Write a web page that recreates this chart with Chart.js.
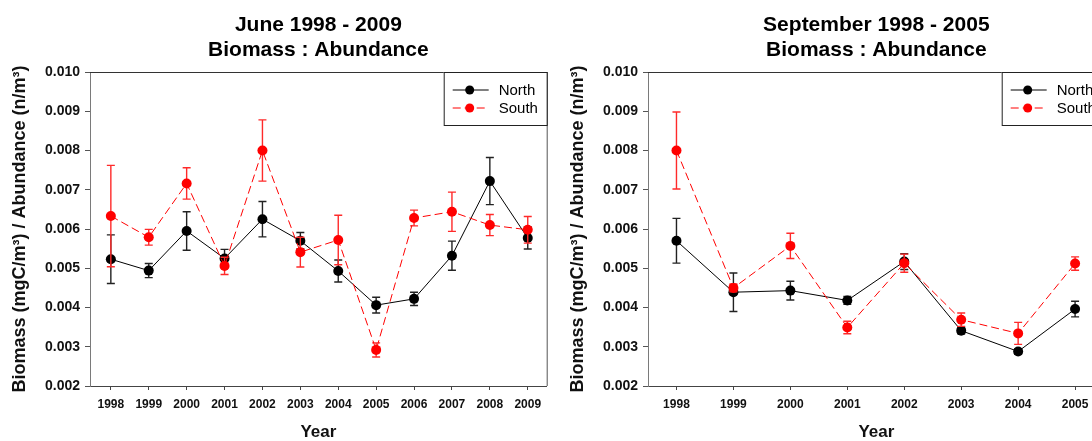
<!DOCTYPE html>
<html>
<head>
<meta charset="utf-8">
<script src="https://cdn.jsdelivr.net/npm/chart.js@4/dist/chart.umd.min.js"></script>
<style>
  html, body { margin: 0; padding: 0; background: #fff; overflow: hidden; }
  #wrap { position: relative; width: 1092px; height: 441px; overflow: hidden; }
  .panel { position: absolute; top: 0; width: 558px; height: 441px; }
</style>
</head>
<body>
<div id="wrap">
  <div class="panel" style="left:0"><canvas id="june" width="558" height="441"></canvas></div>
  <div class="panel" style="left:558px"><canvas id="sept" width="558" height="441"></canvas></div>
</div>
<script>
// June survey, 1998-2009 (mean and standard error)
const juneYears = [1998, 1999, 2000, 2001, 2002, 2003, 2004, 2005, 2006, 2007, 2008, 2009];
const juneNorth = [0.00523, 0.00494, 0.00595, 0.00525, 0.00625, 0.00570, 0.00493, 0.00406, 0.00422, 0.00532, 0.00722, 0.00577];
const juneNorthErr = [0.00062, 0.00018, 0.00049, 0.00023, 0.00045, 0.00021, 0.00028, 0.00020, 0.00017, 0.00037, 0.00060, 0.00028];
const juneSouth = [0.00633, 0.00579, 0.00716, 0.00506, 0.00800, 0.00541, 0.00572, 0.00292, 0.00628, 0.00644, 0.00610, 0.00598];
const juneSouthErr = [0.00129, 0.00020, 0.00040, 0.00022, 0.00078, 0.00038, 0.00063, 0.00018, 0.00020, 0.00050, 0.00027, 0.00034];

// September survey, 1998-2005
const septYears = [1998, 1999, 2000, 2001, 2002, 2003, 2004, 2005];
const septNorth = [0.00570, 0.00439, 0.00443, 0.00418, 0.00517, 0.00341, 0.00288, 0.00396];
const septNorthErr = [0.00057, 0.00049, 0.00024, 0.00010, 0.00020, 0.00008, 0.00007, 0.00020];
const septSouth = [0.00800, 0.00450, 0.00557, 0.00349, 0.00513, 0.00369, 0.00334, 0.00512];
const septSouthErr = [0.00098, 0.00010, 0.00032, 0.00016, 0.00023, 0.00017, 0.00028, 0.00017];

const yTicks = [0.002, 0.003, 0.004, 0.005, 0.006, 0.007, 0.008, 0.009, 0.010];
const seriesNames = ['North', 'South'];

const FONT = 'Arial, "Liberation Sans", Helvetica, sans-serif';
const NORTH_COLOR = '#000000';
const SOUTH_COLOR = '#ff0000';
const SOUTH_DASH = [8, 4];

// vertical error bars with caps, drawn under each dataset's markers
const errorBars = {
  id: 'errorBars',
  beforeDatasetDraw(chart, args) {
    const ds = chart.data.datasets[args.index];
    if (!ds.errors) return;
    const { ctx } = chart;
    const xs = chart.scales.x, ys = chart.scales.y;
    ctx.save();
    ctx.strokeStyle = ds.errorColor;
    ctx.lineWidth = 1.4;
    ds.data.forEach((p, i) => {
      const e = ds.errors[i];
      const x = xs.getPixelForValue(p.x);
      const yt = ys.getPixelForValue(p.y + e);
      const yb = ys.getPixelForValue(p.y - e);
      ctx.beginPath();
      ctx.moveTo(x, yt); ctx.lineTo(x, yb);
      ctx.moveTo(x - 4, yt); ctx.lineTo(x + 4, yt);
      ctx.moveTo(x - 4, yb); ctx.lineTo(x + 4, yb);
      ctx.stroke();
    });
    ctx.restore();
  }
};

// two-line title centred over the plot, plus the top/right frame
const frameAndTitle = {
  id: 'frameAndTitle',
  afterDraw(chart, args, opts) {
    const { ctx, chartArea: a } = chart;
    ctx.save();
    ctx.lineWidth = 1;
    ctx.strokeStyle = '#333';
    ctx.beginPath();
    ctx.moveTo(a.left, a.top + 0.5); ctx.lineTo(a.right, a.top + 0.5);
    ctx.stroke();
    ctx.strokeStyle = '#555';
    ctx.beginPath();
    ctx.moveTo(a.right + 0.5, a.top); ctx.lineTo(a.right + 0.5, a.bottom);
    ctx.stroke();
    ctx.fillStyle = '#000';
    ctx.font = 'bold 21px ' + FONT;
    ctx.textAlign = 'center';
    ctx.textBaseline = 'middle';
    const cx = (a.left + a.right) / 2;
    ctx.fillText(opts.lines[0], cx, 25);
    ctx.fillText(opts.lines[1], cx, 50);
    ctx.restore();
  }
};

// boxed legend in the upper-right corner of the plot
const boxLegend = {
  id: 'boxLegend',
  afterDraw(chart) {
    const { ctx, chartArea: a } = chart;
    const w = 103, h = 53;
    const L = a.right - w, T = a.top;
    ctx.save();
    ctx.fillStyle = '#fff';
    ctx.fillRect(L, T, w, h);
    ctx.strokeStyle = '#222';
    ctx.lineWidth = 1;
    ctx.strokeRect(L + 0.5, T + 0.5, w, h);
    chart.data.datasets.forEach((ds, i) => {
      const y = T + 18 + i * 18;
      ctx.strokeStyle = ds.borderColor;
      ctx.lineWidth = 1;
      ctx.setLineDash(ds.borderDash || []);
      ctx.beginPath();
      ctx.moveTo(L + 9, y); ctx.lineTo(L + 45, y);
      ctx.stroke();
      ctx.setLineDash([]);
      ctx.fillStyle = ds.pointBackgroundColor;
      ctx.beginPath();
      ctx.arc(L + 26, y, 4.5, 0, Math.PI * 2);
      ctx.fill();
      ctx.fillStyle = '#000';
      ctx.font = '15px ' + FONT;
      ctx.textAlign = 'left';
      ctx.textBaseline = 'middle';
      ctx.fillText(ds.label, L + 55, y + 1);
    });
    ctx.restore();
  }
};

function makeChart(id, titleLines, years, north, northErr, south, southErr, xMin, xMax) {
  const toPts = (vals) => vals.map((v, i) => ({ x: years[i], y: v }));
  return new Chart(document.getElementById(id), {
    type: 'line',
    data: {
      datasets: [
        {
          label: seriesNames[0],
          data: toPts(north),
          errors: northErr,
          errorColor: '#222',
          borderColor: NORTH_COLOR,
          borderWidth: 1,
          pointBackgroundColor: NORTH_COLOR,
          pointBorderColor: NORTH_COLOR,
          pointRadius: 5,
          pointBorderWidth: 0,
          tension: 0,
          order: 2
        },
        {
          label: seriesNames[1],
          data: toPts(south),
          errors: southErr,
          errorColor: '#ff2a2a',
          borderColor: SOUTH_COLOR,
          borderDash: SOUTH_DASH,
          borderWidth: 1,
          pointBackgroundColor: SOUTH_COLOR,
          pointBorderColor: SOUTH_COLOR,
          pointRadius: 5,
          pointBorderWidth: 0,
          tension: 0,
          order: 1
        }
      ]
    },
    options: {
      responsive: false,
      animation: false,
      devicePixelRatio: 1,
      layout: { padding: { top: 72, right: 11.3, left: 0, bottom: 0 } },
      plugins: {
        legend: { display: false },
        tooltip: { enabled: false },
        frameAndTitle: { lines: titleLines }
      },
      scales: {
        x: {
          type: 'linear',
          min: xMin,
          max: xMax,
          afterBuildTicks: (s) => { s.ticks = years.map(v => ({ value: v })); },
          afterFit: (s) => { s.height = 55; },
          grid: { drawOnChartArea: false, drawTicks: true, tickLength: 4, color: '#444' },
          border: { display: true, color: '#444', width: 1 },
          ticks: {
            padding: 7,
            color: '#111',
            font: { family: FONT, size: 12, weight: 'bold' },
            maxRotation: 0,
            autoSkip: false,
            callback: (v) => String(v)
          },
          title: {
            display: true,
            text: 'Year',
            color: '#111',
            font: { family: FONT, size: 17, weight: 'bold', lineHeight: 1.0 },
            padding: { top: 0, bottom: 0 }
          }
        },
        y: {
          min: yTicks[0],
          max: yTicks[yTicks.length - 1],
          afterBuildTicks: (s) => { s.ticks = yTicks.map(v => ({ value: v })); },
          afterFit: (s) => { s.width = 90; },
          grid: { drawOnChartArea: false, drawTicks: true, tickLength: 5, color: '#555' },
          border: { display: true, color: '#7a7a7a', width: 1 },
          ticks: {
            padding: 5,
            color: '#111',
            font: { family: FONT, size: 14, weight: 'bold' },
            callback: (v) => v.toFixed(3)
          },
          title: {
            display: true,
            text: 'Biomass (mgC/m³) / Abundance (n/m³)',
            color: '#111',
            font: { family: FONT, size: 18, weight: 'bold' },
            padding: { top: 9, bottom: 0 }
          }
        }
      }
    },
    plugins: [errorBars, frameAndTitle, boxLegend]
  });
}

makeChart('june', ['June 1998 - 2009', 'Biomass : Abundance'],
  juneYears, juneNorth, juneNorthErr, juneSouth, juneSouthErr, 1997.45, 2009.5);
makeChart('sept', ['September 1998 - 2005', 'Biomass : Abundance'],
  septYears, septNorth, septNorthErr, septSouth, septSouthErr, 1997.5, 2005.52);
</script>
</body>
</html>
